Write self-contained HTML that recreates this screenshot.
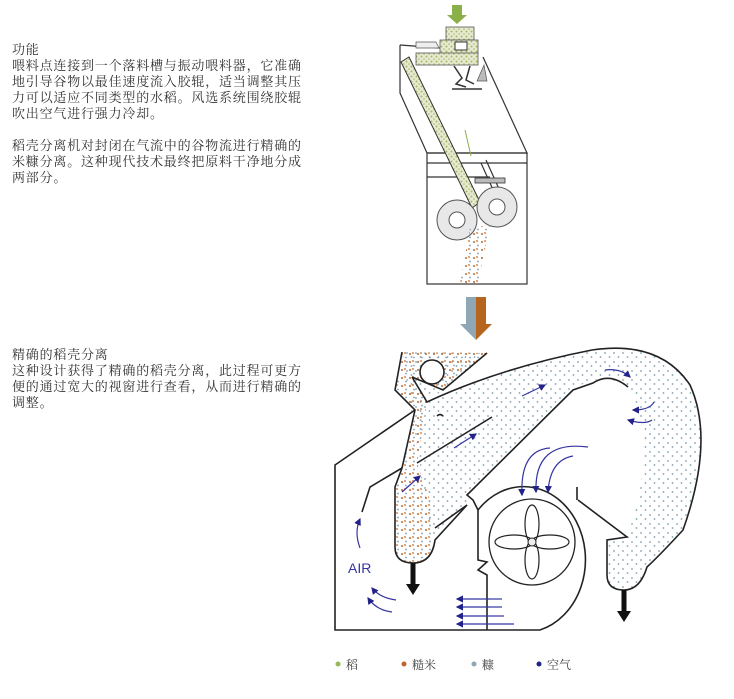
<!DOCTYPE html>
<html><head><meta charset="utf-8"><style>
body{margin:0;background:#fff;width:734px;height:699px;overflow:hidden;position:relative;font-family:"Liberation Sans","Noto Sans CJK SC",sans-serif;}
.t{position:absolute;left:12px;font-size:13px;letter-spacing:0.8px;line-height:16px;color:#333;font-family:"Liberation Serif","Noto Serif CJK SC",serif;white-space:nowrap;}
svg{position:absolute;left:0;top:0;}
</style></head><body>
<div class="t" style="top:42px">功能<br>喂料点连接到一个落料槽与振动喂料器，它准确<br>地引导谷物以最佳速度流入胶辊，适当调整其压<br>力可以适应不同类型的水稻。风选系统围绕胶辊<br>吹出空气进行强力冷却。<br><br>稻壳分离机对封闭在气流中的谷物流进行精确的<br>米糠分离。这种现代技术最终把原料干净地分成<br>两部分。</div>
<div class="t" style="top:347px">精确的稻壳分离<br>这种设计获得了精确的稻壳分离，此过程可更方<br>便的通过宽大的视窗进行查看，从而进行精确的<br>调整。</div>
<svg width="734" height="699" viewBox="0 0 734 699">
<defs>
<pattern id="pb" width="9" height="9" patternUnits="userSpaceOnUse"><circle cx="2" cy="2" r="0.9" fill="#7f9fb0"/><circle cx="6.5" cy="6" r="0.9" fill="#7f9fb0"/></pattern>
<pattern id="pm" width="8" height="8" patternUnits="userSpaceOnUse"><circle cx="2" cy="2" r="1" fill="#c0652a"/><circle cx="6" cy="5.5" r="0.9" fill="#7f9fb0"/><circle cx="5" cy="1" r="0.9" fill="#c0652a"/></pattern>
<pattern id="pg" width="5" height="5" patternUnits="userSpaceOnUse"><rect width="5" height="5" fill="#e6ead0"/><circle cx="1.5" cy="1.5" r="1" fill="#a8b86a"/><circle cx="4" cy="4" r="0.8" fill="#a8b86a"/></pattern>
<linearGradient id="ga" x1="0" x2="1"><stop offset="0.5" stop-color="#8fa6b5"/><stop offset="0.5" stop-color="#b5651d"/></linearGradient>
<marker id="ah" markerWidth="6" markerHeight="6" refX="5" refY="3" orient="auto"><path d="M0,0L6,3L0,6z" fill="#22228a"/></marker>
</defs>
<!-- top machine -->
<g stroke="#333" stroke-width="1.2" fill="none">
<path d="M400,45 L400,93 L427,153 L527,153 L483,57"/>
<path d="M400,45 L440,48"/>
<rect x="427" y="153" width="100" height="131"/>
<line x1="427" y1="163" x2="527" y2="163"/><line x1="427" y1="177" x2="490" y2="177"/>
</g>
<path d="M452,5h10v10h5l-10,9-10,-9h5z" fill="#8bb04a"/>
<rect x="446" y="27" width="28" height="13" fill="url(#pg)" stroke="#555" stroke-width=".8"/>
<rect x="440" y="40" width="38" height="14" fill="url(#pg)" stroke="#555" stroke-width=".8"/>
<rect x="416" y="53" width="62" height="12" fill="url(#pg)" stroke="#555" stroke-width=".8"/>
<rect x="455" y="42" width="12" height="8" fill="#fff" stroke="#333"/>
<path d="M416,42h20l3,6h-23z" fill="#eee" stroke="#555" stroke-width=".7"/>
<path d="M454,66l8,12-6,6 10,3M470,66l-4,14 8,4M452,89h30" stroke="#333" stroke-width="1.5" fill="none"/>
<path d="M484,65l-7,16h10z" fill="#bbb" stroke="#555" stroke-width=".7"/>
<path d="M401,62 L409,57 L480,202 L472,208 Z" fill="url(#pg)" stroke="#333" stroke-width="1"/>
<path d="M465,130l6,26" stroke="#8bb04a" stroke-width="1"/>
<path d="M481,163 l18,40 M486,160 l18,40" stroke="#333" stroke-width="1.2"/>
<rect x="475" y="178" width="30" height="5" fill="#bbb" stroke="#333" stroke-width=".8"/>
<g stroke="#555" fill="#e8e8e8" stroke-width="1">
<circle cx="457" cy="220" r="20"/><circle cx="497" cy="207" r="20"/>
</g>
<g stroke="#555" fill="#fff"><circle cx="457" cy="220" r="8"/><circle cx="497" cy="207" r="8"/></g>
<path d="M470,228 L490,225 L478,283 L460,283 Z" fill="url(#pm)"/>
<path d="M466,297h20v27h6l-16,16-16,-16h6z" fill="url(#ga)"/>
<!-- bottom machine -->
<path d="M432,540 L467,505 L467,495 L573,390 Q600,370 628,387 Q660,440 627,537 L607,540 L607,575 Q607,590 624,590 Q640,590 647,567 Q660,555 683,530 Q715,440 690,385 Q660,340 592,350 Q500,368 427,402 L443,390 L487,353 L402,352 Z" fill="url(#pb)"/>
<path d="M402,352 L395,390 L415,410 L402,468 L395,487 L395,547 Q395,563 413,563 Q432,563 432,540 L430,500 L417,463 L427,402 L412,377 Z" fill="url(#pm)"/>
<path d="M402,352 L487,353 L443,390 L412,377Z" fill="url(#pm)"/>
<g stroke="#222" stroke-width="1.6" fill="none">
<path d="M402,352 L395,390 L415,410 L402,468 L395,487 L395,547 Q395,563 413,563 Q432,563 435,540 L467,505"/>
<path d="M487,353 L443,390 L412,377"/><path d="M412,377 L427,402 Q500,368 592,350 Q660,340 690,385 Q715,440 683,530 Q660,555 647,567 Q640,590 624,590 Q607,590 607,575 L607,540 L627,537 L578,500"/>
<path d="M628,387 Q610,372 593,383 L573,390 L467,495 L473,500 L478,510 L478,560 L487,562 L478,570 L487,575 L487,630"/>
<path d="M417,463 L492,417"/><path d="M402,468 L370,487 L362,512"/><path d="M435,528 L467,505"/>
<path d="M415,410 L335,465 L335,630 L540,630"/>
<path d="M478,510 A62,73 0 1 1 540,630"/>
<path d="M577,487 L577,500"/>
<path d="M437,416 q3,-3 6,0"/>
</g>
<circle cx="432" cy="372" r="12" fill="#fff" stroke="#222" stroke-width="1.6"/>
<circle cx="532" cy="542" r="43" fill="#fff" stroke="#222" stroke-width="1.3"/>
<g fill="none" stroke="#222" stroke-width="1.2">
<ellipse cx="532" cy="524" rx="7" ry="19"/><ellipse cx="532" cy="560" rx="7" ry="19"/>
<ellipse cx="514" cy="542" rx="19" ry="7"/><ellipse cx="550" cy="542" rx="19" ry="7"/>
</g>
<circle cx="532" cy="542" r="4" fill="#eee" stroke="#222"/>
<g stroke="#111" stroke-width="5"><line x1="413" y1="563" x2="413" y2="585"/><line x1="624" y1="590" x2="624" y2="612"/></g>
<path d="M406,584h14l-7,11z M617,611h14l-7,11z" fill="#111"/>
<g stroke="#3535a0" stroke-width="1.2" fill="none" marker-end="url(#ah)">
<path d="M402,492 L420,476"/><path d="M454,448 L476,434"/><path d="M522,396 L545,385"/>
<path d="M605,370 Q620,368 630,377"/><path d="M654,402 Q650,410 633,410"/><path d="M652,420 Q645,425 628,420"/>
<path d="M550,448 Q520,450 522,495"/><path d="M588,447 Q534,440 536,492"/><path d="M573,456 Q550,460 548,492"/>
<path d="M360,548 Q354,532 360,519"/><path d="M396,600 Q380,598 372,588"/><path d="M392,612 Q376,610 368,598"/>
<path d="M490,599 L457,599"/><path d="M490,607 L457,607"/><path d="M490,616 L457,616"/><path d="M490,624 L457,624"/>
</g>
<g stroke="#3535a0" stroke-width="1.2"><line x1="490" y1="599" x2="502" y2="599"/><line x1="490" y1="607" x2="502" y2="607"/><line x1="490" y1="616" x2="504" y2="616"/><line x1="490" y1="624" x2="514" y2="624"/></g>
<text x="348" y="573" font-family="Liberation Sans" font-size="14" fill="#3535a0">AIR</text>
<g font-size="12" fill="#444" font-family="Liberation Serif,Noto Serif CJK SC,serif">
<circle cx="338" cy="664" r="2.5" fill="#9ab85a"/><text x="346" y="669">稻</text>
<circle cx="404" cy="664" r="2.5" fill="#c0652a"/><text x="412" y="669">糙米</text>
<circle cx="474" cy="664" r="2.5" fill="#8fa6b5"/><text x="482" y="669">糠</text>
<circle cx="539" cy="664" r="2.5" fill="#22228a"/><text x="547" y="669">空气</text>
</g>
</svg>
</body></html>
